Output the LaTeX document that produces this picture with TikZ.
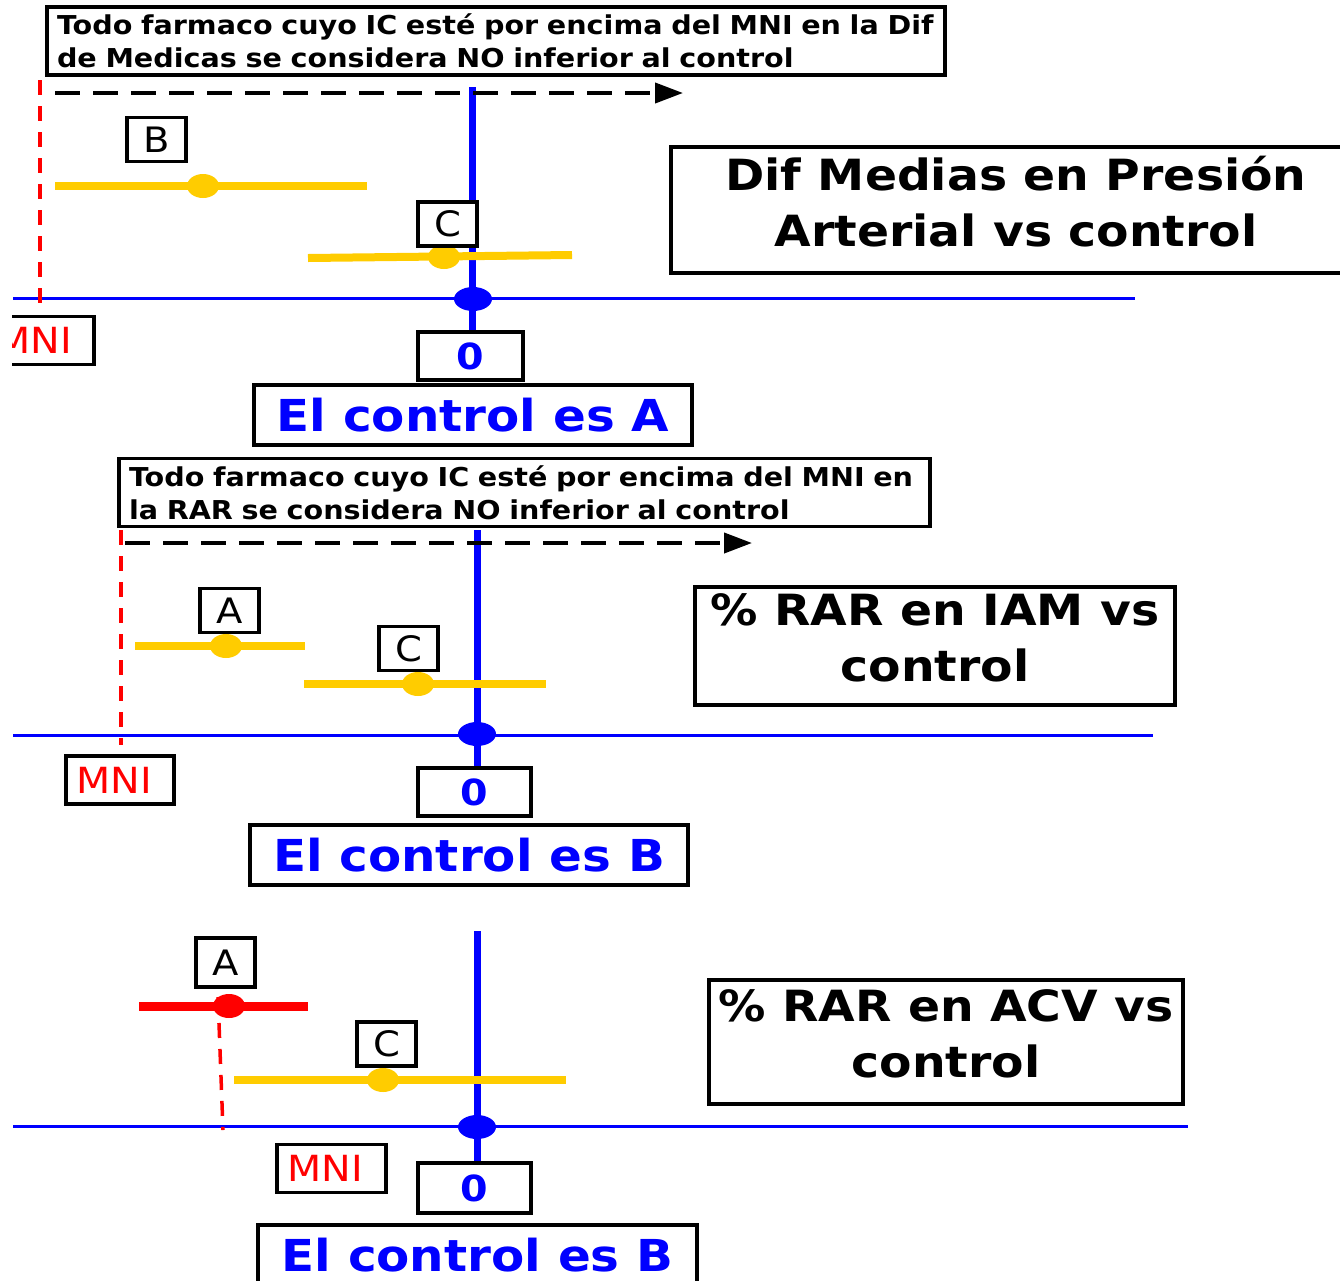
\documentclass[tikz,border=0pt]{standalone}
\usepackage{fontspec}
\setmainfont{DejaVu Sans}[FakeStretch=1.1]
\usetikzlibrary{arrows.meta,shapes.geometric}
\definecolor{CtrlBlue}{HTML}{0000FF}
\definecolor{CiYellow}{HTML}{FFCC00}
\definecolor{MniRed}{HTML}{FF0000}
\tikzset{
  % Base box
  BX/.style={rectangle,draw=black,line width=3.5pt,fill=white,
             inner sep=0pt,align=center},
  % Box variants
  lbl/.style={BX,minimum width=59pt,minimum height=44pt,
              font=\fontsize{35}{35}\selectfont},
  mni/.style={BX,minimum width=108pt,minimum height=48pt,text=MniRed,
              font=\fontsize{36}{36}\selectfont,
              execute at begin node={\hspace*{-12pt}}},
  zero/.style={BX,minimum width=113pt,minimum height=48pt,text=CtrlBlue,
               font=\fontsize{36}{36}\selectfont\bfseries},
  ctrl/.style={BX,minimum width=438pt,minimum height=60pt,text=CtrlBlue,
               font=\fontsize{44}{44}\selectfont\bfseries},
  ttl/.style={BX,font=\fontsize{43}{56}\selectfont\bfseries,
              execute at end node={\rule[-17pt]{0pt}{17pt}}},
  note/.style={BX,inner xsep=10pt,minimum height=68pt,align=left,
               font=\fontsize{26}{33}\selectfont\bfseries},
  % Axes and intervals
  axisH/.style={CtrlBlue,line width=3pt},
  axisV/.style={CtrlBlue,line width=7pt},
  ci/.style={CiYellow,line width=8pt},
  ciRed/.style={MniRed,line width=9pt},
  mniLine/.style={MniRed,line width=3.5pt,dash pattern=on 15pt off 11pt},
  better/.style={black,line width=4pt,dash pattern=on 25pt off 13pt,
                 -{Triangle[length=28pt,width=20pt]}},
  % Dots
  dotB/.style={ellipse,fill=CtrlBlue,inner sep=0pt,minimum width=38pt,minimum height=24pt},
  dotY/.style={ellipse,fill=CiYellow,inner sep=0pt,minimum width=32pt,minimum height=24pt},
  dotR/.style={ellipse,fill=MniRed,inner sep=0pt,minimum width=32pt,minimum height=24pt}
}

\begin{document}
\begin{tikzpicture}[x=1pt,y=-1pt]
  \useasboundingbox (0,0) rectangle (1340,1280);

  %------ PANEL 1: DIF MEDIAS ------
  \draw[axisH] (13,298) -- (1135,298);
  \draw[mniLine] (40,80) -- (40,305);
  \draw[axisV] (472,87) -- (472,330);
  \draw[better] (55,93) -- (683,93);
  \draw[ci] (55,186) -- (367,186);
  \node[dotY] (b1) at (203,186) {};
  \draw[ci] (308,258) -- (572,255);
  \node[dotY] (c1) at (444,257) {};
  \node[dotB] (o1) at (473,299) {};

  \node[note,text width=878pt] (note1) at (496,41)
    {Todo farmaco cuyo IC esté por encima del MNI en la Dif\\
     de Medicas se considera NO inferior al control};
  \node[lbl] (B1) at (156.5,139.5) {B};
  \node[lbl] (C1) at (447.5,224) {C};
  \begin{scope}
    \clip (12,300) rectangle (200,400);
    \node[mni] (mni1) at (40,340.5) {MNI};
  \end{scope}
  \node[zero,minimum width=105pt] (zero1) at (470.5,356) {0};
  \node[ctrl] (ctrl1) at (473,415) {El control es A};
  \node[ttl,minimum width=690pt,minimum height=126pt] (ttl1) at (1016,210)
    {Dif Medias en Presión\\Arterial vs control};

  %------ PANEL 2: RAR EN IAM ------
  \draw[axisH] (13,735) -- (1153,735);
  \draw[mniLine] (121,530) -- (121,745);
  \draw[axisV] (477,530) -- (477,770);
  \draw[better] (125,543) -- (752,543);
  \draw[ci] (135,646) -- (305,646);
  \node[dotY] (a2) at (226,646) {};
  \draw[ci] (304,684) -- (546,684);
  \node[dotY] (c2) at (418,684) {};
  \node[dotB] (o2) at (477,734) {};

  \node[note,text width=791pt] (note2) at (524.5,492.5)
    {Todo farmaco cuyo IC esté por encima del MNI en\\
     la RAR se considera NO inferior al control};
  \node[lbl] (A2) at (229.5,610.5) {A};
  \node[lbl] (C2) at (408.5,648.5) {C};
  \node[mni] (mni2) at (120,780) {MNI};
  \node[zero] (zero2) at (474.5,792) {0};
  \node[ctrl] (ctrl2) at (469,855) {El control es B};
  \node[ttl,minimum width=480pt,minimum height=118pt] (ttl2) at (935,646)
    {\% RAR en IAM vs\\control};

  %------ PANEL 3: RAR EN ACV ------
  \draw[axisH] (13,1126) -- (1188,1126);
  \draw[axisV] (477,931) -- (477,1165);
  \draw[mniLine] (218,997) -- (223,1130);
  \draw[ciRed] (139,1006) -- (308,1006);
  \node[dotR] (a3) at (229,1006) {};
  \draw[ci] (234,1080) -- (566,1080);
  \node[dotY] (c3) at (383,1080) {};
  \node[dotB] (o3) at (477,1127) {};

  \node[lbl,minimum height=49pt] (A3) at (225.5,962.5) {A};
  \node[lbl] (C3) at (386.5,1044) {C};
  \node[mni,minimum width=109pt] (mni3) at (331.5,1168.5) {MNI};
  \node[zero,minimum height=50pt] (zero3) at (474.5,1188) {0};
  \node[ctrl,minimum width=439pt] (ctrl3) at (477.5,1255) {El control es B};
  \node[ttl,minimum width=474pt,minimum height=124pt] (ttl3) at (946,1042)
    {\% RAR en ACV vs\\control};
\end{tikzpicture}
\end{document}
